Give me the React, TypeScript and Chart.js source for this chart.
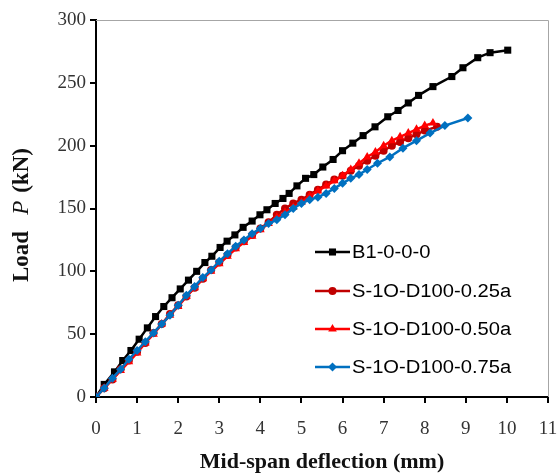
import React, { useEffect, useRef } from 'react';
import { Chart, registerables } from 'chart.js';

Chart.register(...registerables);

const seriesNames = ['B1-0-0-0', 'S-1O-D100-0.25a', 'S-1O-D100-0.50a', 'S-1O-D100-0.75a'];

const b1X = [0, 0.2, 0.45, 0.65, 0.85, 1.05, 1.25, 1.45, 1.65, 1.85, 2.05, 2.25, 2.45, 2.65, 2.82, 3.02, 3.19, 3.38, 3.58, 3.8, 3.99, 4.16, 4.36, 4.55, 4.7, 4.89, 5.1, 5.3, 5.52, 5.77, 6.0, 6.25, 6.5, 6.79, 7.1, 7.35, 7.6, 7.85, 8.2, 8.66, 8.93, 9.29, 9.59, 10.02];
const b1Y = [0, 10, 20, 29, 37, 46, 55, 64, 72, 79, 86, 93, 100, 107, 112, 119, 124, 129, 135, 140, 145, 149, 154, 158, 162, 168, 174, 177, 183, 189, 196, 202, 208, 215, 223, 228, 234, 240, 247, 255, 262, 270, 274, 276];

const s25X = [0, 0.2, 0.4, 0.6, 0.8, 1.0, 1.2, 1.4, 1.6, 1.8, 2.0, 2.2, 2.4, 2.6, 2.8, 3.0, 3.2, 3.4, 3.6, 3.8, 4.0, 4.2, 4.4, 4.6, 4.8, 5.0, 5.2, 5.4, 5.6, 5.8, 6.0, 6.2, 6.4, 6.6, 6.8, 7.0, 7.2, 7.4, 7.6, 7.8, 8.0, 8.3];
const s25Y = [0, 7, 14, 22, 29, 36, 43, 51, 58, 66, 73, 80, 87, 94, 101, 107, 113, 119, 124, 129, 134, 139, 145, 150, 154, 157, 161, 165, 169, 173, 176, 180, 184, 188, 192, 196, 200, 203, 206, 209, 212, 215];

const s50X = [0, 0.2, 0.4, 0.6, 0.8, 1.0, 1.2, 1.4, 1.6, 1.8, 2.0, 2.2, 2.4, 2.6, 2.8, 3.0, 3.2, 3.4, 3.6, 3.8, 4.0, 4.2, 4.4, 4.6, 4.8, 5.0, 5.2, 5.4, 5.6, 5.8, 6.0, 6.2, 6.4, 6.6, 6.8, 7.0, 7.2, 7.4, 7.6, 7.8, 8.0, 8.2];
const s50Y = [0, 7, 14, 21, 28, 35, 43, 50, 58, 65, 72, 80, 87, 94, 100, 106, 112, 118, 123, 128, 133, 138, 143, 147, 151, 155, 160, 164, 168, 172, 176, 181, 186, 191, 195, 200, 204, 207, 210, 213, 216, 218];

const s75X = [0, 0.2, 0.4, 0.6, 0.8, 1.0, 1.2, 1.4, 1.6, 1.8, 2.0, 2.2, 2.4, 2.6, 2.8, 3.0, 3.2, 3.4, 3.6, 3.8, 4.0, 4.2, 4.4, 4.6, 4.8, 5.0, 5.2, 5.4, 5.6, 5.8, 6.0, 6.2, 6.4, 6.6, 6.85, 7.15, 7.47, 7.8, 8.13, 8.49, 9.05];
const s75Y = [0, 7, 15, 22, 30, 37, 44, 51, 58, 65, 73, 81, 88, 95, 101, 108, 114, 120, 125, 130, 134, 138, 141, 145, 150, 154, 157, 159, 162, 166, 170, 174, 177, 181, 186, 191, 198, 204, 210, 216, 222];

const xTicks = [0, 1, 2, 3, 4, 5, 6, 7, 8, 9, 10, 11];
const yTicks = [0, 50, 100, 150, 200, 250, 300];

const colors = ['#000000', '#C00000', '#FF0000', '#0070C0'];
const pointStyles = ['rect', 'circle', 'triangle', 'rectRot'];
const pointRadii = [5, 4, 5, 4.5];

const toPts = (xs: number[], ys: number[]) => xs.map((x, i) => ({ x, y: ys[i] }));

function drawMarker(ctx: CanvasRenderingContext2D, style: string, x: number, y: number, r: number) {
  ctx.beginPath();
  if (style === 'rect') {
    const s = Math.SQRT1_2 * r;
    ctx.rect(x - s, y - s, 2 * s, 2 * s);
  } else if (style === 'circle') {
    ctx.arc(x, y, r, 0, Math.PI * 2);
  } else if (style === 'triangle') {
    ctx.moveTo(x, y - r);
    ctx.lineTo(x + r * 0.866, y + r * 0.5);
    ctx.lineTo(x - r * 0.866, y + r * 0.5);
    ctx.closePath();
  } else {
    ctx.moveTo(x - r, y);
    ctx.lineTo(x, y - r);
    ctx.lineTo(x + r, y);
    ctx.lineTo(x, y + r);
    ctx.closePath();
  }
  ctx.fill();
}

const decorPlugin = {
  id: 'decor',
  beforeDatasetsDraw(chart: any) {
    const { ctx, chartArea } = chart;
    ctx.save();
    ctx.strokeStyle = '#A6A6A6';
    ctx.lineWidth = 1;
    ctx.beginPath();
    ctx.moveTo(chartArea.left, chartArea.top + 0.5);
    ctx.lineTo(chartArea.right + 0.5, chartArea.top + 0.5);
    ctx.lineTo(chartArea.right + 0.5, chartArea.bottom);
    ctx.stroke();
    ctx.restore();
  },
  afterDraw(chart: any) {
    const { ctx } = chart;
    ctx.save();
    // legend
    const rows = [252, 291, 329, 367];
    ctx.textBaseline = 'middle';
    ctx.textAlign = 'left';
    rows.forEach((ry, i) => {
      ctx.strokeStyle = colors[i];
      ctx.fillStyle = colors[i];
      ctx.lineWidth = 2.5;
      ctx.beginPath();
      ctx.moveTo(315, ry);
      ctx.lineTo(350, ry);
      ctx.stroke();
      drawMarker(ctx, pointStyles[i], 332.5, ry, pointRadii[i]);
      ctx.save();
      ctx.translate(352, ry + 1);
      ctx.scale(1.12, 1);
      ctx.font = '18px "Liberation Sans", Arial, sans-serif';
      ctx.fillStyle = '#000';
      ctx.fillText(seriesNames[i], 0, 0);
      ctx.restore();
    });
    // x title
    ctx.fillStyle = '#111';
    ctx.font = 'bold 22px "Liberation Serif", "Times New Roman", serif';
    ctx.textAlign = 'center';
    ctx.textBaseline = 'middle';
    ctx.fillText('Mid-span deflection (mm)', 322, 462);
    // y title
    ctx.translate(28, 282);
    ctx.rotate(-Math.PI / 2);
    ctx.textAlign = 'left';
    ctx.textBaseline = 'alphabetic';
    const bold = 'bold 23px "Liberation Serif", "Times New Roman", serif';
    const ital = 'italic 23px "Liberation Serif", "Times New Roman", serif';
    let cx = 0;
    ctx.font = bold;
    ctx.fillText('Load', cx, 0);
    cx += ctx.measureText('Load').width + 16;
    ctx.font = ital;
    ctx.fillText('P', cx, 0);
    cx += ctx.measureText('P').width + 8;
    ctx.font = bold;
    ctx.fillText('(kN)', cx, 0);
    ctx.restore();
  },
};

export default function App() {
  const ref = useRef<HTMLCanvasElement>(null);
  useEffect(() => {
    document.body.style.margin = '0';
    if (!ref.current) return;
    const datasets = [
      toPts(b1X, b1Y),
      toPts(s25X, s25Y),
      toPts(s50X, s50Y),
      toPts(s75X, s75Y),
    ].map((data, i) => ({
      label: seriesNames[i],
      data,
      borderColor: colors[i],
      backgroundColor: colors[i],
      pointBackgroundColor: colors[i],
      pointBorderColor: colors[i],
      pointBorderWidth: 0,
      pointStyle: pointStyles[i],
      pointRadius: pointRadii[i],
      borderWidth: 2.5,
      showLine: true,
      tension: 0,
      order: 4 - i,
    }));
    const tickFont = { family: '"Liberation Serif", "Times New Roman", serif', size: 19 };
    const chart = new Chart(ref.current, {
      type: 'scatter',
      data: { datasets },
      plugins: [decorPlugin],
      options: {
        animation: false,
        responsive: false,
        maintainAspectRatio: false,
        layout: { padding: { left: 0, top: 20, right: 10, bottom: 0 } },
        plugins: { legend: { display: false }, tooltip: { enabled: false } },
        scales: {
          x: {
            type: 'linear',
            min: 0,
            max: 11,
            afterBuildTicks: (scale: any) => {
              scale.ticks = xTicks.map((v) => ({ value: v }));
            },
            afterFit: (scale: any) => {
              scale.height = 76;
              scale.paddingLeft = 0;
              scale.paddingRight = 0;
            },
            ticks: { font: tickFont, color: '#333', padding: 15, maxRotation: 0, autoSkip: false },
            grid: { drawOnChartArea: false, drawTicks: true, tickLength: 6, color: '#000', lineWidth: 2 },
            border: { display: true, color: '#000', width: 2 },
          },
          y: {
            type: 'linear',
            min: 0,
            max: 300,
            afterBuildTicks: (scale: any) => {
              scale.ticks = yTicks.map((v) => ({ value: v }));
            },
            afterFit: (scale: any) => {
              scale.width = 96;
              scale.paddingTop = 0;
              scale.paddingBottom = 0;
            },
            ticks: { font: tickFont, color: '#333', padding: 4 },
            grid: { drawOnChartArea: false, drawTicks: true, tickLength: 6, color: '#000', lineWidth: 2 },
            border: { display: true, color: '#000', width: 2 },
          },
        },
      },
    } as any);
    return () => chart.destroy();
  }, []);
  return (
    <div style={{ position: 'absolute', left: 0, top: 0, width: 558, height: 473, background: '#fff' }}>
      <canvas ref={ref} width={558} height={473} style={{ width: 558, height: 473 }} />
    </div>
  );
}
